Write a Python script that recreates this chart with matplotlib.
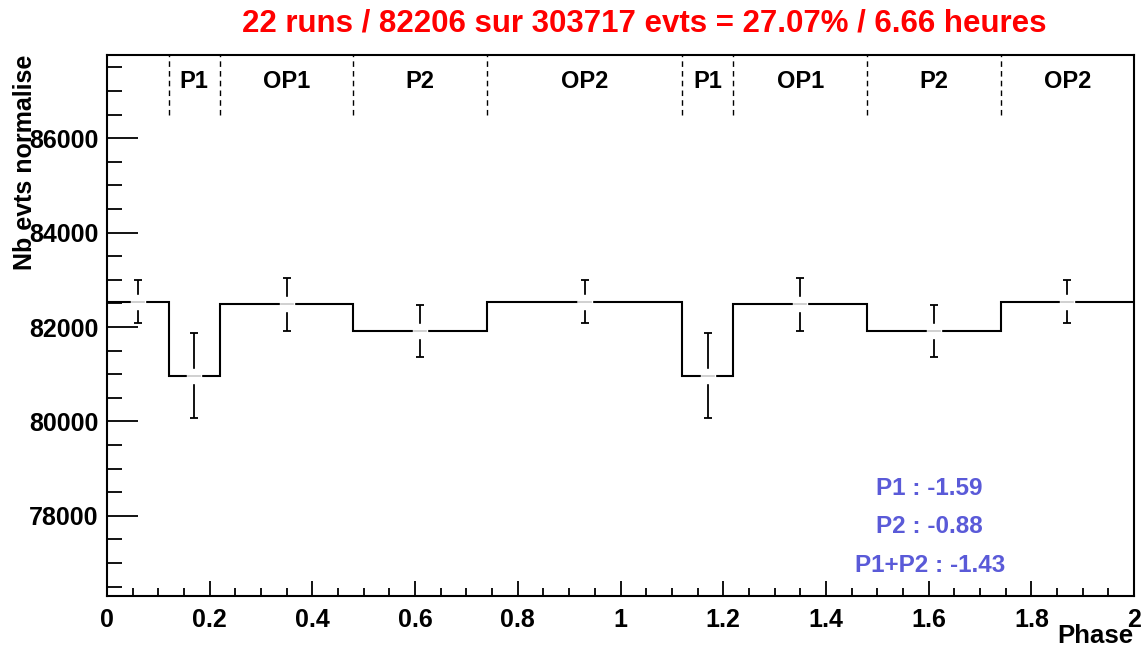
import matplotlib
matplotlib.use("Agg")
import matplotlib.pyplot as plt
from matplotlib.ticker import MultipleLocator

# histogram data
edges = [0.0, 0.12, 0.22, 0.48, 0.74, 1.12, 1.22, 1.48, 1.74, 2.0]
values = [82540, 80970, 82480, 81920, 82540, 80970, 82480, 81920, 82540]
errors = [460, 905, 560, 555, 460, 905, 560, 555, 460]

# phase regions shown along the top
region_edges = [0.12, 0.22, 0.48, 0.74, 1.12, 1.22, 1.48, 1.74, 2.0]
region_labels = ["P1", "OP1", "P2", "OP2", "P1", "OP1", "P2", "OP2"]

results = ["P1 : -1.59", "P2 : -0.88", "P1+P2 : -1.43"]
title = "22 runs / 82206 sur 303717 evts = 27.07% / 6.66 heures"

plt.rcParams['font.family'] = ['Liberation Sans', 'DejaVu Sans']
plt.rcParams['font.weight'] = 'bold'

fig = plt.figure(figsize=(11.44, 6.5), dpi=100)
ax = fig.add_axes([0.0935, 0.0831, 0.8978, 0.8323])

centers = [(a + b) / 2 for a, b in zip(edges[:-1], edges[1:])]
ax.stairs(values, edges, baseline=None, color="black", linewidth=1.5)
ax.errorbar(centers, values, yerr=errors, fmt="s", color="black",
            markerfacecolor="white", markeredgecolor="white", markersize=10,
            elinewidth=1.3, capsize=3, capthick=1.3)
# faint line through the marker gap, as in the original
for c, v in zip(centers, values):
    ax.plot([c - 0.012, c + 0.012], [v, v], color="#c8c8c8", linewidth=1.2, zorder=5)

for x in region_edges[:-1]:
    ax.axvline(x, ymin=0.889, ymax=1.0, color="black", linestyle=(0, (4, 3)), linewidth=1)
starts = region_edges[:-1]
ends = region_edges[1:]
for s, e, lab in zip(starts, ends, region_labels):
    ax.text((s + e) / 2, 0.951, lab, transform=ax.get_xaxis_transform(),
            ha="center", va="center", fontsize=17, fontweight="bold")

for i, txt in enumerate(results):
    ax.text(0.801, 0.1996 - i * 0.072, txt, transform=ax.transAxes,
            ha="center", va="center", fontsize=17.5, fontweight="bold", color="#5a5ad8")

ax.set_xlim(0, 2)
ax.set_ylim(76300, 87765)
ax.xaxis.set_major_locator(MultipleLocator(0.2))
ax.xaxis.set_minor_locator(MultipleLocator(0.05))
ax.yaxis.set_major_locator(MultipleLocator(2000))
ax.yaxis.set_minor_locator(MultipleLocator(500))
ax.xaxis.set_major_formatter(plt.FuncFormatter(lambda v, p: f"{v:g}"))
ax.tick_params(axis="both", which="both", direction="in", labelsize=18, width=1.3)
ax.tick_params(axis="x", which="major", length=11, pad=9)
ax.tick_params(axis="x", which="minor", length=6)
ax.tick_params(axis="y", which="major", length=22, pad=6)
ax.tick_params(axis="y", which="minor", length=11)
for lab in ax.get_xticklabels() + ax.get_yticklabels():
    lab.set_fontweight("bold")
for sp in ax.spines.values():
    sp.set_linewidth(1.5)

fig.text(0.563, 0.964, title, ha="center", va="center", fontsize=22.5,
         fontweight="bold", color="#ff0000")
fig.text(0.022, 0.9154, "Nb evts normalise", rotation=90, ha="center", va="top",
         fontsize=18, fontweight="bold")
fig.text(0.991, 0.021, "Phase", ha="right", va="center", fontsize=18.5, fontweight="bold")

fig.savefig("out.png", dpi=100)
